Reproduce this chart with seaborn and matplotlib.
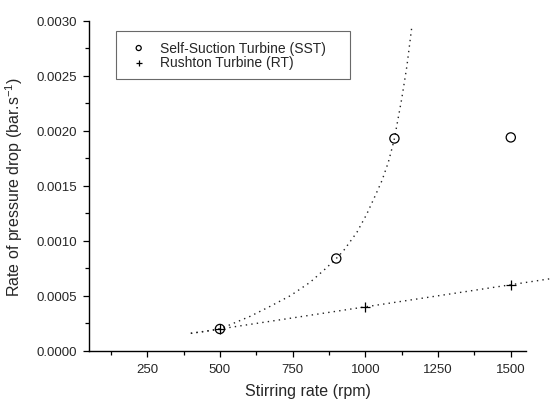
import matplotlib
matplotlib.use("Agg")
import matplotlib.pyplot as plt
import seaborn as sns
from matplotlib.ticker import MultipleLocator, FormatStrFormatter, FixedLocator

# ---- data ----
rpm_sst = [500, 900, 1100, 1500]
rate_sst = [0.00020, 0.00084, 0.00193, 0.00194]
rpm_rt = [500, 1000, 1500]
rate_rt = [0.00020, 0.00040, 0.00060]

# dotted trend curves
fit_sst_x = [400, 450, 500, 604, 673, 742, 810, 862, 900, 925, 971, 1005, 1034, 1057,
             1079, 1091, 1100, 1125, 1143, 1160]
fit_sst_y = [0.000161, 0.000178, 0.00020, 0.000315, 0.000406, 0.000502, 0.000624, 0.000745,
             0.00084, 0.000911, 0.001078, 0.001244, 0.001411, 0.001547, 0.001714, 0.001835,
             0.00193, 0.00229, 0.00259, 0.00295]
fit_rt_x = [400, 1645]
fit_rt_y = [0.000160, 0.000660]

x_major = [250, 500, 750, 1000, 1250, 1500]
x_minor = [125, 375, 625, 875, 1125, 1375]
labels = ["Self-Suction Turbine (SST)", "Rushton Turbine (RT)"]

sns.set_style("ticks")
plt.rcParams["font.family"] = ["Liberation Sans", "DejaVu Sans"]
plt.rcParams["mathtext.fontset"] = "custom"
plt.rcParams["mathtext.rm"] = "Liberation Sans"
plt.rcParams["mathtext.it"] = "Liberation Sans:italic"

fig = plt.figure(figsize=(5.53, 4.02), dpi=100)
ax = fig.add_axes([0.161, 0.1244, 0.790, 0.8216])

dot = (0, (1, 3))
sns.lineplot(x=fit_sst_x, y=fit_sst_y, ax=ax, color="#222222", linestyle=dot, lw=1.0,
             sort=False, estimator=None)
sns.lineplot(x=fit_rt_x, y=fit_rt_y, ax=ax, color="#222222", linestyle=dot, lw=1.0,
             sort=False, estimator=None, clip_on=False)

h1 = ax.scatter(rpm_sst, rate_sst, marker="o", s=44, facecolors="none",
                edgecolors="black", linewidths=0.9, zorder=3)
h2 = ax.scatter(rpm_rt, rate_rt, marker="+", s=55, color="black", linewidths=0.9, zorder=3)

ax.set_xlim(50, 1552)
ax.set_ylim(0, 0.0030)
ax.xaxis.set_major_locator(FixedLocator(x_major))
ax.xaxis.set_minor_locator(FixedLocator(x_minor))
ax.yaxis.set_major_locator(MultipleLocator(0.0005))
ax.yaxis.set_minor_locator(MultipleLocator(0.00025))
ax.yaxis.set_major_formatter(FormatStrFormatter("%.4f"))

sns.despine(ax=ax)
for s in ["left", "bottom"]:
    ax.spines[s].set_linewidth(1.0)
    ax.spines[s].set_color("black")

ax.tick_params(axis="both", which="major", length=4.5, width=0.9, labelsize=9.5,
               direction="out", color="black", pad=4)
ax.tick_params(axis="both", which="minor", length=3, width=0.9, direction="out", color="black")

ax.set_xlabel("Stirring rate (rpm)", fontsize=11.5, labelpad=6)
ax.set_ylabel(r"Rate of pressure drop (bar.s$^{\mathregular{-1}}$)", fontsize=11.5, labelpad=8)

leg = ax.legend([h1, h2], labels, loc="upper left",
                bbox_to_anchor=(0.062, 0.814, 0.535, 0.155), mode="expand",
                fontsize=10, frameon=True, fancybox=False, shadow=False,
                markerscale=0.55, scatterpoints=1, borderpad=0.7,
                handlelength=1.85, handletextpad=0.64, labelspacing=0.05,
                borderaxespad=0)
leg.get_frame().set_edgecolor("#444444")
leg.get_frame().set_linewidth(0.8)

fig.savefig("out.png", dpi=100)
